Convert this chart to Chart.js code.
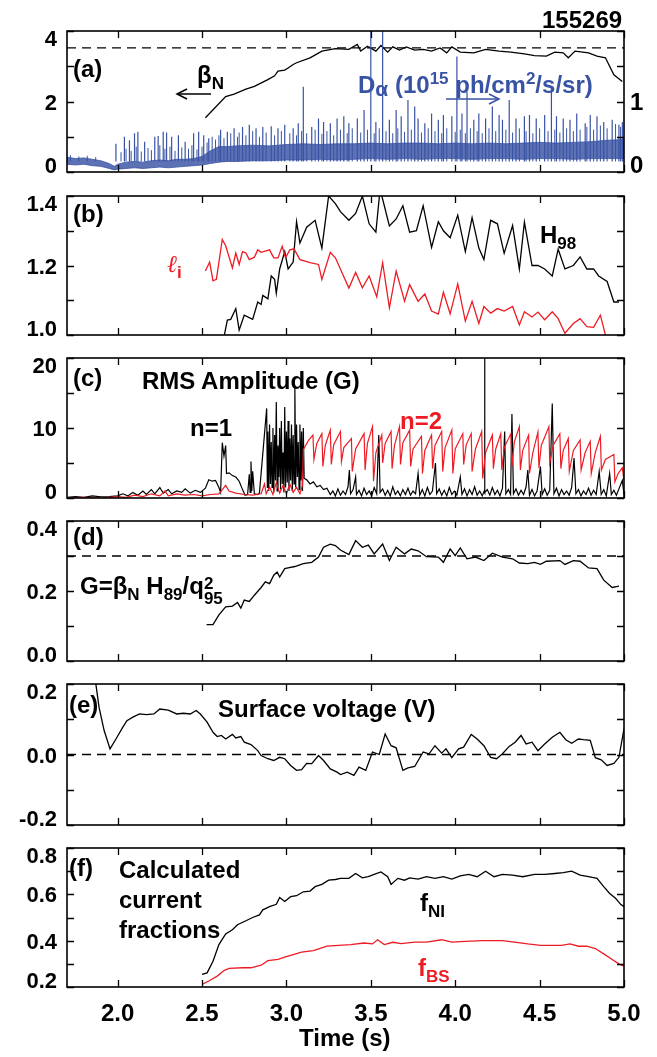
<!DOCTYPE html>
<html>
<head>
<meta charset="utf-8">
<script src="https://cdn.jsdelivr.net/npm/chart.js@4/dist/chart.umd.min.js"></script>
<style>
  body { margin: 0; background: #fff; }
  #wrap { position: relative; width: 657px; height: 1057px; overflow: hidden; }
  canvas { position: absolute; left: 0; }
  .lbl { position: absolute; white-space: nowrap; line-height: 1; font: bold 24px "Liberation Sans", Arial, sans-serif; color: #000; z-index: 5; }
  .sb { font-size: 17px; position: relative; top: 6px; }
  .sp { font-size: 17px; position: relative; top: -9px; }
  .blue { color: #3953a4; }
  .red { color: #ed1c24; }
  .stack { display: inline-block; vertical-align: -10px; font-size: 17px; line-height: 15px; }
  .stack span { display: block; }
  svg { position: absolute; left: 0; top: 0; z-index: 6; }
</style>
</head>
<body>
<div id="wrap">
  <div class="lbl" style="left:542px;top:6px">155269</div>

  <div class="lbl" style="left:73px;top:55px">(a)</div>
  <div class="lbl" style="left:197px;top:61px">β<span class="sb">N</span></div>
  <div class="lbl blue" style="left:358px;top:71px">D<span style="font-size:21px;position:relative;top:3px">α</span> (10<span class="sp">15</span> ph/cm<span class="sp">2</span>/s/sr)</div>

  <div class="lbl" style="left:73px;top:200px">(b)</div>
  <div class="lbl" style="left:540px;top:221px">H<span class="sb">98</span></div>
  <div class="lbl red" style="left:167px;top:250px"><span style="font-weight:normal;font-family:'DejaVu Serif',serif;font-style:italic">ℓ</span><span class="sb">i</span></div>

  <div class="lbl" style="left:73px;top:364px">(c)</div>
  <div class="lbl" style="left:142px;top:367px">RMS Amplitude (G)</div>
  <div class="lbl" style="left:190px;top:414px">n=1</div>
  <div class="lbl red" style="left:400px;top:407px">n=2</div>

  <div class="lbl" style="left:73px;top:523px">(d)</div>
  <div class="lbl" style="left:80px;top:572px">G=β<span class="sb">N</span> H<span class="sb">89</span>/q<span class="stack"><span>2</span><span>95</span></span></div>

  <div class="lbl" style="left:69px;top:691px">(e)</div>
  <div class="lbl" style="left:218px;top:695px">Surface voltage (V)</div>

  <div class="lbl" style="left:69px;top:854px">(f)</div>
  <div class="lbl" style="left:119px;top:855px;line-height:30px">Calculated<br>current<br>fractions</div>
  <div class="lbl" style="left:420px;top:889px">f<span class="sb">NI</span></div>
  <div class="lbl red" style="left:418px;top:954px">f<span class="sb">BS</span></div>

  <div class="lbl" style="left:299px;top:1024px">Time (s)</div>

  <svg width="657" height="1057">
    <g stroke="#000" stroke-width="1.5" fill="none">
      <line x1="211" y1="94" x2="177" y2="94"/>
      <polyline points="187,89 177,94 187,99"/>
    </g>
    <g stroke="#3953a4" stroke-width="1.5" fill="none">
      <line x1="446" y1="99" x2="499" y2="99"/>
      <polyline points="489,94 499,99 489,104"/>
    </g>
  </svg>
</div>

<script>
// ---------- data (time in s) ----------
const xTicks = [2.0, 2.5, 3.0, 3.5, 4.0, 4.5, 5.0];

// (a) beta_N, left axis
const betaN = [[2.52,1.54],[2.64,2.14],[2.69,2.21],[2.76,2.35],[2.81,2.43],[2.89,2.62],[2.93,2.73],[2.95,2.86],[2.99,2.89],[3.01,2.95],
  [3.04,3.05],[3.06,3.10],[3.14,3.24],[3.21,3.43],[3.29,3.50],[3.37,3.48],[3.42,3.62],[3.44,3.43],[3.48,3.57],[3.53,3.43],
  [3.56,3.59],[3.60,3.40],[3.63,3.55],[3.67,3.46],[3.71,3.55],[3.76,3.46],[3.81,3.48],[3.86,3.43],[3.91,3.52],[3.95,3.38],
  [3.98,3.55],[4.03,3.40],[4.11,3.38],[4.18,3.48],[4.26,3.43],[4.33,3.40],[4.41,3.35],[4.47,3.30],[4.54,3.29],[4.59,3.40],
  [4.64,3.38],[4.67,3.24],[4.71,3.43],[4.79,3.38],[4.84,3.29],[4.89,3.24],[4.94,2.76],[4.99,2.57]];
const betaRef = 3.52;

// (a) D-alpha, right axis: [t, low edge, high edge] of the dense band
const daBand = [[1.70,0.11,0.21],[1.75,0.10,0.19],[1.80,0.11,0.20],[1.85,0.09,0.18],[1.90,0.08,0.16],[1.95,0.05,0.12],[1.98,0.03,0.08],
  [2.00,0.04,0.11],[2.05,0.05,0.14],[2.10,0.06,0.15],[2.15,0.05,0.14],[2.20,0.06,0.16],[2.25,0.07,0.17],[2.30,0.06,0.16],
  [2.35,0.07,0.18],[2.40,0.08,0.18],[2.45,0.09,0.19],[2.50,0.10,0.22],[2.55,0.12,0.30],[2.60,0.14,0.36],[2.65,0.15,0.36],
  [2.70,0.15,0.37],[2.80,0.16,0.38],[2.90,0.16,0.37],[3.00,0.17,0.39],[3.10,0.17,0.40],[3.20,0.18,0.39],[3.30,0.17,0.40],
  [3.40,0.18,0.40],[3.50,0.19,0.41],[3.60,0.18,0.40],[3.70,0.19,0.41],[3.80,0.18,0.41],[3.90,0.19,0.40],[4.00,0.19,0.41],
  [4.10,0.18,0.40],[4.20,0.19,0.41],[4.30,0.19,0.40],[4.40,0.18,0.41],[4.50,0.19,0.42],[4.60,0.19,0.41],[4.70,0.18,0.42],
  [4.80,0.19,0.43],[4.90,0.19,0.45],[5.00,0.19,0.46]];
// ELM spikes: [t, peak]
const daSpikes = [[1.99,0.40],[2.04,0.50],[2.07,0.45],[2.10,0.55],[2.12,0.57],[2.16,0.43],[2.22,0.50],[2.24,0.51],[2.27,0.57],
  [2.29,0.56],[2.32,0.50],[2.36,0.52],[2.40,0.43],[2.45,0.55],[2.48,0.57],[2.51,0.52],[2.54,0.48],[2.61,0.60],[2.65,0.57],
  [2.69,0.62],[2.74,0.64],[2.78,0.67],[2.82,0.62],[2.86,0.64],[2.91,0.65],[2.95,0.62],[2.99,0.67],[3.04,0.62],[3.07,0.69],
  [3.10,1.21],[3.15,0.64],[3.19,0.76],[3.22,0.71],[3.26,0.69],[3.30,0.76],[3.34,0.79],[3.37,0.69],[3.42,0.76],[3.46,0.88],
  [3.50,2.20],[3.53,0.71],[3.57,2.20],[3.61,0.74],[3.65,0.88],[3.68,0.79],[3.72,1.02],[3.76,0.93],[3.78,0.76],[3.82,0.69],
  [3.86,0.83],[3.90,0.74],[3.93,0.81],[3.98,0.79],[4.01,1.64],[4.04,0.83],[4.07,1.14],[4.11,0.74],[4.14,0.83],[4.18,0.76],
  [4.22,0.93],[4.26,0.81],[4.28,0.74],[4.32,1.02],[4.36,0.76],[4.41,0.79],[4.44,0.81],[4.48,0.76],[4.53,0.81],[4.57,1.19],
  [4.60,0.79],[4.64,0.76],[4.68,0.74],[4.72,0.83],[4.77,0.69],[4.80,0.81],[4.84,0.79],[4.88,0.71],[4.93,0.74],[4.97,0.67],[4.99,0.71]];
// smaller bursts filling the band
const daSmall = [[1.72,0.24],[1.77,0.22],[1.82,0.23],[1.87,0.21],[2.02,0.28],[2.05,0.33],[2.08,0.30],[2.11,0.36],[2.14,0.29],
  [2.18,0.34],[2.20,0.31],[2.25,0.38],[2.28,0.33],[2.31,0.36],[2.34,0.30],[2.38,0.35],[2.42,0.33],[2.44,0.38],[2.47,0.32],
  [2.50,0.36],[2.53,0.42],[2.56,0.50],[2.58,0.46],[2.60,0.52],[2.63,0.48],[2.67,0.55],[2.71,0.50],[2.72,0.56],[2.76,0.52],
  [2.80,0.58],[2.84,0.50],[2.88,0.56],[2.93,0.52],[2.97,0.58],[3.02,0.55],[3.06,0.52],[3.09,0.58],[3.12,0.55],[3.17,0.60],
  [3.21,0.54],[3.24,0.58],[3.28,0.52],[3.32,0.60],[3.36,0.55],[3.39,0.62],[3.44,0.56],[3.48,0.60],[3.52,0.55],[3.55,0.62],
  [3.59,0.58],[3.63,0.55],[3.66,0.62],[3.70,0.57],[3.74,0.60],[3.80,0.56],[3.84,0.62],[3.88,0.58],[3.92,0.55],[3.95,0.62],
  [4.00,0.57],[4.03,0.60],[4.06,0.55],[4.09,0.62],[4.13,0.58],[4.16,0.55],[4.20,0.62],[4.24,0.58],[4.30,0.60],[4.34,0.56],
  [4.38,0.62],[4.42,0.58],[4.46,0.55],[4.50,0.62],[4.55,0.58],[4.59,0.60],[4.62,0.56],[4.66,0.62],[4.70,0.58],[4.74,0.60],
  [4.78,0.64],[4.82,0.60],[4.86,0.66],[4.90,0.62],[4.95,0.68],[4.98,0.64]];
const spikeBase = 0.15;

// (b) H98 and internal inductance
const h98 = [[2.62,0.97],[2.65,1.043],[2.67,1.045],[2.70,1.076],[2.72,1.014],[2.75,1.057],[2.80,1.045],[2.83,1.095],[2.85,1.088],
  [2.86,1.114],[2.89,1.104],[2.91,1.17],[2.93,1.16],[2.94,1.12],[2.96,1.19],[2.99,1.24],[3.01,1.19],[3.04,1.21],[3.06,1.326],
  [3.08,1.265],[3.12,1.31],[3.17,1.33],[3.21,1.25],[3.25,1.40],[3.29,1.378],[3.32,1.355],[3.37,1.33],[3.41,1.35],[3.45,1.40],
  [3.49,1.32],[3.53,1.296],[3.555,1.42],[3.61,1.314],[3.65,1.334],[3.69,1.372],[3.73,1.296],[3.77,1.30],[3.81,1.372],[3.86,1.252],
  [3.90,1.326],[3.93,1.30],[3.97,1.28],[4.015,1.345],[4.06,1.24],[4.10,1.338],[4.14,1.25],[4.17,1.217],[4.21,1.33],[4.25,1.32],
  [4.29,1.235],[4.34,1.315],[4.38,1.19],[4.41,1.325],[4.455,1.20],[4.49,1.20],[4.53,1.19],[4.575,1.17],[4.61,1.247],[4.65,1.19],
  [4.70,1.20],[4.74,1.225],[4.78,1.19],[4.82,1.19],[4.85,1.17],[4.90,1.154],[4.94,1.095],[4.97,1.095]];
const li = [[2.52,1.184],[2.545,1.21],[2.565,1.156],[2.585,1.16],[2.62,1.275],[2.64,1.257],[2.68,1.193],[2.70,1.236],[2.72,1.203],
  [2.74,1.24],[2.76,1.236],[2.78,1.217],[2.81,1.224],[2.83,1.245],[2.85,1.238],[2.90,1.245],[2.925,1.222],[2.95,1.222],[2.975,1.255],
  [2.995,1.222],[3.02,1.245],[3.045,1.248],[3.08,1.217],[3.14,1.208],[3.19,1.203],[3.21,1.16],[3.26,1.238],[3.29,1.222],[3.37,1.135],
  [3.41,1.18],[3.45,1.136],[3.49,1.17],[3.535,1.11],[3.57,1.208],[3.61,1.078],[3.65,1.184],[3.70,1.097],[3.73,1.145],[3.78,1.097],
  [3.82,1.118],[3.86,1.069],[3.90,1.06],[3.93,1.123],[3.97,1.061],[4.015,1.147],[4.06,1.04],[4.10,1.097],[4.14,1.033],[4.17,1.082],
  [4.21,1.063],[4.25,1.076],[4.29,1.069],[4.34,1.082],[4.38,1.029],[4.41,1.067],[4.455,1.052],[4.49,1.066],[4.53,1.044],[4.575,1.067],
  [4.61,1.047],[4.65,1.005],[4.70,1.033],[4.74,1.047],[4.78,1.024],[4.82,1.022],[4.86,1.057],[4.89,1.00],[4.90,0.97]];

// (c) RMS amplitude n=1 and n=2 (G)
const n1 = [[1.70,0.1],[1.75,0.2],[1.80,0.1],[1.85,0.3],[1.90,0.15],[1.95,0.2],[2.00,0.3],[2.03,0.6],[2.06,0.3],[2.09,0.8],
  [2.12,0.4],[2.15,1.0],[2.17,0.5],[2.20,1.2],[2.22,0.6],[2.25,1.5],[2.27,0.7],[2.30,1.2],[2.32,0.6],[2.35,1.0],[2.38,0.8],
  [2.40,1.3],[2.43,0.7],[2.46,1.1],[2.49,0.8],[2.52,1.4],[2.54,2.6],[2.56,2.4],[2.58,2.5],[2.60,1.5],[2.61,0.8],[2.62,7.9],
  [2.63,6.0],[2.64,7.5],[2.645,3.5],[2.66,3.6],[2.68,3.2],[2.70,3.0],[2.72,2.4],[2.74,1.2],[2.755,0.4],[2.77,0.5],[2.78,3.4],
  [2.785,0.8],[2.79,5.2],[2.795,1.0],[2.80,3.8],[2.81,0.6],[2.83,0.5],[2.84,0.7],[2.883,12.8],[2.887,1.5],
  [2.89,9.5],[2.895,1.0],[2.90,10.5],[2.905,2.0],[2.91,8.0],[2.915,1.5],[2.92,10.0],[2.925,0.8],[2.93,9.0],[2.935,2.5],
  [2.94,13.7],[2.945,1.0],[2.95,7.5],[2.955,3.0],[2.96,10.0],[2.965,1.2],[2.97,11.0],[2.975,2.0],[2.98,6.5],[2.985,0.8],
  [2.99,13.0],[2.995,1.5],[3.00,9.5],[3.005,2.2],[3.01,11.0],[3.015,1.0],[3.02,8.5],[3.025,2.5],[3.03,10.5],[3.035,1.0],
  [3.04,9.0],[3.045,2.0],[3.05,16.0],[3.055,1.5],[3.06,10.5],[3.065,3.0],[3.07,8.0],[3.075,1.2],[3.08,10.5],[3.085,2.5],
  [3.09,9.5],[3.095,1.0],[3.10,10.0],[3.105,2.8],
  [3.12,2.6],[3.14,2.0],[3.16,2.3],[3.18,1.6],[3.20,1.8],[3.22,1.2],[3.24,1.4],[3.26,0.5],[3.275,1.0],[3.29,0.3],[3.305,1.3],
  [3.32,0.4],[3.335,1.0],[3.35,0.5],[3.365,1.6],[3.373,4.0],[3.38,0.6],[3.395,1.2],[3.41,3.0],[3.415,0.5],[3.43,1.1],[3.445,0.3],
  [3.46,1.4],[3.475,0.5],[3.49,1.0],[3.505,0.3],[3.52,1.5],[3.535,0.6],[3.547,9.0],[3.555,0.8],[3.57,1.3],[3.585,0.4],[3.60,1.1],
  [3.615,0.3],[3.63,1.6],[3.645,0.5],[3.66,1.0],[3.675,0.3],[3.69,1.2],[3.705,0.5],[3.72,1.4],[3.735,0.4],[3.75,1.0],[3.765,0.6],
  [3.78,3.5],[3.79,0.4],[3.805,1.2],[3.82,0.3],[3.835,1.5],[3.85,0.5],[3.865,1.0],[3.883,5.0],[3.89,0.6],[3.905,1.3],[3.92,0.4],
  [3.935,1.1],[3.95,0.3],[3.965,1.5],[3.98,0.5],[3.995,1.0],[4.01,0.4],[4.03,3.0],[4.04,0.5],[4.055,1.3],[4.07,0.3],[4.085,1.2],
  [4.10,0.5],[4.115,1.6],[4.13,0.4],[4.145,1.0],[4.16,0.3],[4.172,1.0],[4.174,21.0],[4.176,0.8],[4.19,1.2],[4.205,0.4],[4.22,1.5],
  [4.235,0.5],[4.25,1.1],[4.265,0.3],[4.28,1.4],[4.293,9.5],[4.30,0.6],[4.315,1.2],[4.328,0.5],[4.336,12.0],[4.345,0.6],[4.36,1.3],
  [4.375,0.4],[4.39,1.1],[4.405,0.5],[4.42,1.6],[4.43,4.0],[4.44,0.4],[4.455,1.2],[4.47,0.3],[4.485,1.0],[4.505,4.5],[4.515,0.5],
  [4.53,1.3],[4.545,0.4],[4.56,1.1],[4.575,13.5],[4.585,0.6],[4.60,1.4],[4.615,0.3],[4.63,1.2],[4.645,0.5],[4.66,1.0],[4.675,0.4],
  [4.69,1.5],[4.704,5.7],[4.715,0.6],[4.73,1.2],[4.745,0.3],[4.76,1.0],[4.775,0.5],[4.79,1.4],[4.805,0.4],[4.82,1.1],[4.835,0.5],
  [4.853,3.8],[4.865,0.5],[4.88,1.2],[4.895,0.3],[4.915,3.5],[4.925,0.5],[4.94,1.1],[4.955,0.4],[4.97,1.3],[4.99,2.5],[5.00,0.5]];
const n2 = [[1.70,0.0],[1.80,0.1],[1.90,0.0],[2.00,0.2],[2.05,0.1],[2.10,0.4],[2.15,0.2],[2.20,0.6],[2.25,0.3],[2.28,1.0],
  [2.30,0.3],[2.35,0.6],[2.40,0.4],[2.45,0.5],[2.50,0.3],[2.55,0.5],[2.60,0.6],[2.62,1.2],[2.64,1.8],[2.66,1.0],[2.70,0.7],
  [2.75,0.5],[2.80,0.4],[2.85,0.6],[2.87,2.0],[2.88,0.6],[2.90,1.6],[2.92,0.5],[2.94,2.2],[2.96,0.7],[2.98,1.8],[3.00,0.6],
  [3.02,2.0],[3.04,0.8],[3.06,1.5],[3.08,0.6],[3.095,1.8],
  [3.10,6.9],[3.13,8.2],[3.157,9.0],[3.163,5.5],[3.18,7.8],[3.21,9.2],[3.216,4.5],[3.23,7.5],[3.26,9.7],[3.266,4.8],[3.28,7.6],
  [3.32,9.5],[3.326,5.2],[3.34,7.2],[3.385,8.5],[3.39,3.8],[3.41,7.0],[3.46,9.2],[3.466,4.0],[3.48,7.8],[3.51,10.2],[3.516,2.4],
  [3.53,6.5],[3.565,9.0],[3.57,5.0],[3.585,7.8],[3.62,9.5],[3.626,4.2],[3.64,7.5],[3.67,10.2],[3.676,4.8],[3.69,7.9],[3.73,9.7],
  [3.736,4.5],[3.75,7.0],[3.80,8.8],[3.806,3.5],[3.82,6.8],[3.86,9.0],[3.866,4.2],[3.88,7.5],[3.92,9.5],[3.926,3.8],[3.94,7.2],
  [3.98,9.7],[3.986,3.5],[4.00,7.0],[4.045,9.2],[4.05,4.8],[4.065,7.6],[4.095,9.2],[4.10,3.8],[4.12,7.0],[4.157,9.5],[4.163,2.8],
  [4.18,6.5],[4.22,9.0],[4.226,4.2],[4.24,7.0],[4.27,9.2],[4.276,4.0],[4.29,7.2],[4.33,9.2],[4.336,4.5],[4.35,8.0],[4.38,10.2],
  [4.386,4.0],[4.40,6.8],[4.435,9.0],[4.44,3.5],[4.46,6.5],[4.49,9.4],[4.496,4.3],[4.51,7.5],[4.555,10.2],[4.56,5.0],[4.58,7.5],
  [4.62,9.2],[4.626,4.2],[4.64,6.8],[4.67,8.5],[4.676,3.8],[4.70,6.8],[4.74,8.3],[4.746,4.0],[4.77,6.5],[4.80,8.1],[4.806,3.5],
  [4.83,6.5],[4.86,8.8],[4.866,4.0],[4.89,5.5],[4.94,6.2],[4.946,2.3],[4.965,3.5],[4.99,4.3],[5.00,2.5]];

// (d) G = beta_N H89 / q95^2
const gFactor = [[2.527,0.104],[2.565,0.104],[2.60,0.132],[2.64,0.155],[2.68,0.157],[2.71,0.167],[2.73,0.151],[2.75,0.174],
  [2.78,0.17],[2.81,0.188],[2.85,0.21],[2.875,0.226],[2.90,0.221],[2.925,0.245],[2.945,0.254],[2.96,0.24],[2.99,0.264],[3.01,0.266],
  [3.05,0.27],[3.10,0.278],[3.15,0.282],[3.19,0.297],[3.22,0.325],[3.26,0.334],[3.29,0.33],[3.32,0.317],[3.37,0.304],[3.41,0.344],
  [3.45,0.325],[3.485,0.331],[3.52,0.306],[3.57,0.334],[3.61,0.287],[3.65,0.325],[3.70,0.306],[3.74,0.32],[3.78,0.315],[3.83,0.298],
  [3.90,0.297],[3.93,0.282],[3.97,0.32],[4.00,0.301],[4.03,0.323],[4.07,0.292],[4.12,0.297],[4.17,0.287],[4.22,0.308],[4.28,0.297],
  [4.34,0.292],[4.38,0.28],[4.43,0.278],[4.47,0.282],[4.505,0.276],[4.54,0.285],[4.62,0.287],[4.65,0.276],[4.70,0.287],[4.74,0.285],
  [4.79,0.266],[4.84,0.264],[4.88,0.231],[4.93,0.21],[4.97,0.214]];
const gRef = 0.3;

// (e) surface voltage (V)
const vSurf = [[1.868,0.21],[1.89,0.134],[1.92,0.068],[1.955,0.016],[1.99,0.044],[2.03,0.077],[2.055,0.096],[2.09,0.106],[2.13,0.115],
  [2.17,0.113],[2.215,0.115],[2.25,0.129],[2.30,0.126],[2.35,0.115],[2.39,0.117],[2.43,0.115],[2.465,0.125],[2.49,0.115],[2.53,0.092],
  [2.565,0.063],[2.59,0.051],[2.615,0.054],[2.64,0.044],[2.68,0.057],[2.70,0.047],[2.73,0.051],[2.75,0.035],[2.79,0.028],[2.83,0.011],
  [2.85,-0.003],[2.89,-0.012],[2.925,-0.017],[2.96,-0.008],[2.99,-0.012],[3.025,-0.031],[3.06,-0.045],[3.09,-0.043],[3.12,-0.025],
  [3.15,-0.026],[3.19,-0.003],[3.22,-0.017],[3.26,-0.041],[3.30,-0.05],[3.32,-0.057],[3.36,-0.05],[3.40,-0.059],[3.43,-0.036],
  [3.47,-0.045],[3.51,0.007],[3.55,0.0],[3.585,0.058],[3.62,0.025],[3.65,0.019],[3.69,-0.045],[3.72,-0.038],[3.76,-0.034],[3.81,0.007],
  [3.845,0.002],[3.88,0.025],[3.92,0.004],[3.945,0.016],[3.98,-0.009],[4.02,0.016],[4.05,0.021],[4.095,0.057],[4.13,0.044],[4.17,0.025],
  [4.21,-0.008],[4.245,-0.012],[4.28,0.002],[4.32,0.023],[4.355,0.035],[4.39,0.054],[4.42,0.03],[4.455,0.035],[4.49,0.011],[4.53,0.03],
  [4.575,0.049],[4.62,0.063],[4.655,0.042],[4.69,0.032],[4.73,0.044],[4.76,0.042],[4.80,0.04],[4.83,-0.009],[4.865,-0.015],[4.90,-0.031],
  [4.94,-0.025],[4.97,-0.008],[5.00,0.073]];
const vRef = 0.0;

// (f) current fractions
const fNI = [[2.50,0.254],[2.53,0.261],[2.565,0.311],[2.60,0.383],[2.64,0.429],[2.68,0.447],[2.71,0.469],[2.76,0.486],[2.80,0.50],
  [2.84,0.511],[2.86,0.533],[2.90,0.547],[2.94,0.557],[2.96,0.586],[2.99,0.569],[3.025,0.59],[3.06,0.594],[3.10,0.611],[3.14,0.614],
  [3.17,0.633],[3.21,0.643],[3.25,0.661],[3.29,0.664],[3.32,0.669],[3.37,0.669],[3.41,0.69],[3.45,0.671],[3.485,0.676],[3.52,0.686],
  [3.56,0.697],[3.60,0.676],[3.62,0.643],[3.66,0.669],[3.70,0.661],[3.73,0.671],[3.78,0.666],[3.83,0.676],[3.88,0.669],[3.93,0.676],
  [3.98,0.666],[4.03,0.68],[4.08,0.686],[4.13,0.676],[4.18,0.70],[4.23,0.676],[4.28,0.686],[4.34,0.683],[4.40,0.676],[4.47,0.686],
  [4.53,0.686],[4.59,0.69],[4.64,0.694],[4.69,0.70],[4.74,0.683],[4.79,0.676],[4.84,0.669],[4.88,0.633],[4.915,0.604],[4.95,0.583],
  [4.98,0.557],[5.00,0.547]];
const fBS = [[2.50,0.211],[2.54,0.226],[2.59,0.247],[2.63,0.271],[2.66,0.28],[2.74,0.283],[2.79,0.283],[2.85,0.294],[2.89,0.314],
  [2.95,0.319],[2.99,0.329],[3.04,0.34],[3.09,0.351],[3.16,0.357],[3.24,0.376],[3.31,0.38],[3.38,0.383],[3.46,0.39],[3.51,0.386],
  [3.54,0.404],[3.58,0.383],[3.63,0.393],[3.68,0.387],[3.76,0.394],[3.83,0.394],[3.92,0.404],[3.98,0.394],[4.06,0.397],[4.16,0.40],
  [4.28,0.40],[4.35,0.394],[4.43,0.386],[4.505,0.38],[4.58,0.38],[4.63,0.38],[4.68,0.386],[4.73,0.376],[4.78,0.376],[4.83,0.366],
  [4.88,0.343],[4.93,0.319],[4.97,0.30],[5.00,0.29]];

// ---------- drawing ----------
const BLUE = '#3953a4', RED = '#ed1c24', BLACK = '#000';
const panelTop = [31, 196, 358, 521, 684, 848];
const panelBottom = [172, 335, 498, 661, 825, 987];

const pts = arr => arr.map(([x, y]) => ({ x, y }));
const hline = v => [{ x: 1.7, y: v }, { x: 5.0, y: v }];
const spikes = arr => arr.flatMap(([t, p]) => [{ x: t, y: spikeBase }, { x: t, y: p }, { x: t, y: null }]);

const frame = {
  id: 'frame',
  afterDatasetsDraw(chart, args, o) {
    const { ctx, chartArea: a } = chart;
    const xs = chart.scales.x, ys = chart.scales.y;
    ctx.save();
    ctx.strokeStyle = BLACK;
    ctx.lineWidth = 1.6;
    ctx.strokeRect(a.left, a.top, a.right - a.left, a.bottom - a.top);
    ctx.lineWidth = 1.3;
    ctx.beginPath();
    xTicks.forEach(v => {
      const x = Math.round(xs.getPixelForValue(v)) + 0.5;
      ctx.moveTo(x, a.top); ctx.lineTo(x, a.top + 7);
      ctx.moveTo(x, a.bottom); ctx.lineTo(x, a.bottom - 7);
    });
    o.ticks.forEach(v => {
      const y = Math.round(ys.getPixelForValue(v)) + 0.5;
      ctx.moveTo(a.left, y); ctx.lineTo(a.left + 7, y);
      ctx.moveTo(a.right, y); ctx.lineTo(a.right - 7, y);
    });
    ctx.stroke();

    ctx.fillStyle = BLACK;
    ctx.font = 'bold 22px "Liberation Sans", Arial, sans-serif';
    ctx.textBaseline = 'alphabetic';
    const place = y => Math.min(Math.max(y, a.top + 7), a.bottom - 7) + 8;
    ctx.textAlign = 'right';
    o.labels.forEach(v => ctx.fillText(v.toFixed(o.dec), a.left - 10, place(ys.getPixelForValue(v))));
    if (o.right) {
      ctx.textAlign = 'left';
      ctx.font = 'bold 24px "Liberation Sans", Arial, sans-serif';
      o.right.forEach(v => ctx.fillText(v.toFixed(0), a.right + 6, place(chart.scales.y2.getPixelForValue(v))));
    }
    if (o.xLabels) {
      ctx.textAlign = 'center';
      ctx.font = 'bold 24px "Liberation Sans", Arial, sans-serif';
      xTicks.forEach(v => ctx.fillText(v.toFixed(1), xs.getPixelForValue(v), a.bottom + 34));
    }
    ctx.restore();
  }
};

function line(data, color, extra) {
  return Object.assign({ data, borderColor: color, borderWidth: 1.3, pointRadius: 0, tension: 0, fill: false }, extra || {});
}
function dashed(data) {
  return line(data, BLACK, { borderDash: [9, 6], borderWidth: 1.3 });
}

function makePanel(i, datasets, scalesY, frameOpts) {
  const T = panelTop[i], B = panelBottom[i];
  const padB = i === 5 ? 70 : 15;
  const cv = document.createElement('canvas');
  cv.width = 657;
  cv.height = B - T + 15 + padB;
  cv.style.top = (T - 15) + 'px';
  document.getElementById('wrap').appendChild(cv);
  return new Chart(cv, {
    type: 'line',
    data: { datasets },
    options: {
      responsive: false,
      maintainAspectRatio: false,
      animation: false,
      layout: { padding: { left: 67, right: 33, top: 15, bottom: padB } },
      plugins: { legend: { display: false }, tooltip: { enabled: false }, frame: frameOpts },
      scales: Object.assign({ x: { type: 'linear', min: 1.7, max: 5.0, display: false } }, scalesY)
    },
    plugins: [frame]
  });
}

// (a)
makePanel(0, [
  line(daBand.map(([t, lo]) => ({ x: t, y: lo })), BLUE, { yAxisID: 'y2', borderWidth: 0.8, order: 1 }),
  line(daBand.map(([t, lo, hi]) => ({ x: t, y: hi })), BLUE,
       { yAxisID: 'y2', borderWidth: 0.8, fill: 0, backgroundColor: 'rgba(57,83,164,0.82)', order: 1 }),
  line(spikes(daSmall), BLUE, { yAxisID: 'y2', borderWidth: 1, spanGaps: false, order: 0 }),
  line(spikes(daSpikes), BLUE, { yAxisID: 'y2', borderWidth: 1.2, spanGaps: false, order: 0 }),
  line(pts(betaN), BLACK, { order: 2 }),
  dashed(hline(betaRef))
], {
  y: { min: 0, max: 4, display: false },
  y2: { min: 0, max: 2, display: false, position: 'right' }
}, { ticks: [0, 1, 2, 3, 4], labels: [0, 2, 4], dec: 0, right: [0, 1] });

// (b)
makePanel(1, [
  line(pts(li), RED),
  line(pts(h98), BLACK)
], { y: { min: 1.0, max: 1.4, display: false } },
{ ticks: [1.0, 1.1, 1.2, 1.3, 1.4], labels: [1.0, 1.2, 1.4], dec: 1 });

// (c)
makePanel(2, [
  line(pts(n2), RED, { borderWidth: 1.2 }),
  line(pts(n1), BLACK, { borderWidth: 1.2 })
], { y: { min: 0, max: 20, display: false } },
{ ticks: [0, 5, 10, 15, 20], labels: [0, 10, 20], dec: 0 });

// (d)
makePanel(3, [
  line(pts(gFactor), BLACK),
  dashed(hline(gRef))
], { y: { min: 0, max: 0.4, display: false } },
{ ticks: [0, 0.1, 0.2, 0.3, 0.4], labels: [0, 0.2, 0.4], dec: 1 });

// (e)
makePanel(4, [
  line(pts(vSurf), BLACK),
  dashed(hline(vRef))
], { y: { min: -0.2, max: 0.2, display: false } },
{ ticks: [-0.2, -0.1, 0, 0.1, 0.2], labels: [-0.2, 0, 0.2], dec: 1 });

// (f)
makePanel(5, [
  line(pts(fBS), RED),
  line(pts(fNI), BLACK)
], { y: { min: 0.2, max: 0.8, display: false } },
{ ticks: [0.2, 0.3, 0.4, 0.5, 0.6, 0.7, 0.8], labels: [0.2, 0.4, 0.6, 0.8], dec: 1, xLabels: true });
</script>
</body>
</html>
